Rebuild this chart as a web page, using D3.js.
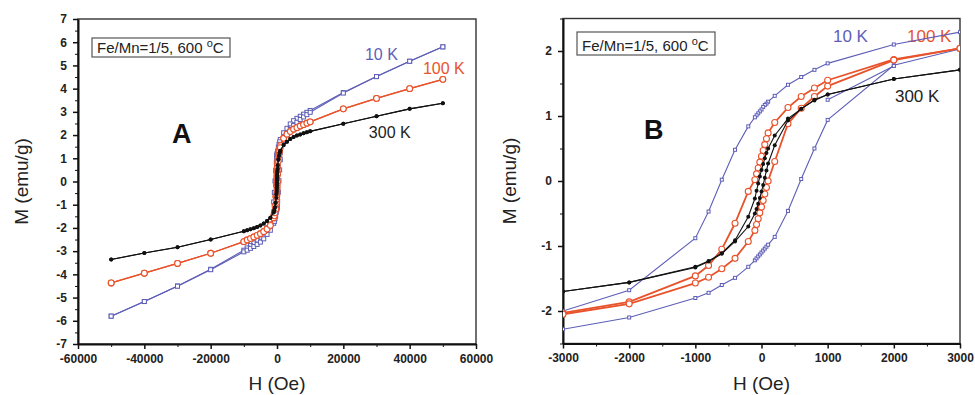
<!DOCTYPE html>
<html>
<head>
<meta charset="utf-8">
<script src="https://cdn.jsdelivr.net/npm/d3@7"></script>
<style>
  body { margin: 0; background: #fff; }
  svg text { font-family: "Liberation Sans", Arial, sans-serif; }
</style>
</head>
<body>
<div id="chart"></div>
<script>
// field sequence of the loop, descending branch then ascending branch (Oe)
const fieldDown = [50000, 40000, 30000, 20000, 10000, 9000, 8000, 7000, 6000, 5000, 4000, 3000, 2000, 1000,
  800, 600, 400, 200, 100, 75, 50, 25, 0, -25, -50, -75, -100, -200, -400, -600, -800, -1000, -2000, -3000,
  -4000, -5000, -6000, -7000, -8000, -9000, -10000, -20000, -30000, -40000, -50000];
const fieldUp = [-50000, -40000, -30000, -20000, -10000, -9000, -8000, -7000, -6000, -5000, -4000, -3000, -2000, -1000,
  -800, -600, -400, -200, -100, -75, -50, -25, 0, 25, 50, 75, 100, 200, 400, 600, 800, 1000, 2000, 3000,
  4000, 5000, 6000, 7000, 8000, 9000, 10000, 20000, 30000, 40000, 50000];

// M (emu/g) at 10 K
const m10Down = [5.80, 5.18, 4.52, 3.83, 3.06, 2.98, 2.90, 2.81, 2.72, 2.62, 2.48, 2.29, 2.10, 1.81,
  1.71, 1.60, 1.48, 1.31, 1.22, 1.19, 1.17, 1.14, 1.10, 1.07, 1.04, 1.01, 0.98, 0.84, 0.48, 0.02, -0.47, -0.88, -1.68, -2.00,
  -2.22, -2.40, -2.53, -2.65, -2.76, -2.86, -2.96, -3.78, -4.50, -5.17, -5.80];
const m10Up = [-5.80, -5.17, -4.51, -3.80, -3.03, -2.96, -2.88, -2.80, -2.71, -2.61, -2.47, -2.28, -2.10, -1.80,
  -1.72, -1.60, -1.49, -1.32, -1.22, -1.19, -1.16, -1.13, -1.10, -1.07, -1.04, -1.01, -0.98, -0.86, -0.46, 0.03, 0.50, 0.94, 1.78, 2.03,
  2.24, 2.41, 2.55, 2.67, 2.78, 2.88, 2.98, 3.81, 4.52, 5.18, 5.80];
const field10Extra = [1000, 2000];
const m10Extra = [1.25, 1.77];

// M (emu/g) at 100 K
const m100Down = [4.40, 4.00, 3.58, 3.13, 2.57, 2.51, 2.45, 2.39, 2.32, 2.25, 2.15, 2.04, 1.87, 1.55,
  1.43, 1.30, 1.13, 0.90, 0.74, 0.65, 0.56, 0.47, 0.38, 0.29, 0.20, 0.11, 0.02, -0.16, -0.65, -1.05, -1.30, -1.46, -1.86, -2.03,
  -2.15, -2.25, -2.32, -2.39, -2.46, -2.52, -2.59, -3.09, -3.53, -3.95, -4.37];
const m100Up = [-4.37, -3.95, -3.53, -3.09, -2.59, -2.52, -2.46, -2.39, -2.32, -2.25, -2.16, -2.05, -1.89, -1.57,
  -1.48, -1.35, -1.19, -0.93, -0.76, -0.67, -0.58, -0.49, -0.40, -0.30, -0.20, -0.10, 0.00, 0.30, 0.88, 1.12, 1.30, 1.46, 1.86, 2.04,
  2.15, 2.25, 2.32, 2.39, 2.45, 2.51, 2.57, 3.13, 3.58, 4.00, 4.40];

// M (emu/g) at 300 K
const m300Down = [3.37, 3.13, 2.81, 2.49, 2.16, 2.12, 2.08, 2.03, 1.98, 1.92, 1.83, 1.71, 1.57, 1.33,
  1.25, 1.11, 0.96, 0.70, 0.50, 0.43, 0.35, 0.26, 0.17, 0.07, -0.04, -0.15, -0.27, -0.55, -0.91, -1.11, -1.23, -1.32, -1.56, -1.70,
  -1.81, -1.90, -1.96, -2.01, -2.06, -2.10, -2.14, -2.50, -2.83, -3.08, -3.36];
const m300Up = [-3.36, -3.08, -2.83, -2.50, -2.14, -2.10, -2.06, -2.01, -1.96, -1.90, -1.81, -1.70, -1.56, -1.33,
  -1.24, -1.12, -0.93, -0.70, -0.50, -0.43, -0.35, -0.26, -0.16, -0.06, 0.05, 0.16, 0.27, 0.55, 0.93, 1.11, 1.24, 1.33, 1.57, 1.71,
  1.83, 1.92, 1.98, 2.03, 2.08, 2.12, 2.16, 2.49, 2.81, 3.13, 3.37];

const seriesNames = ["10 K", "100 K", "300 K"];
const sampleLabel = "Fe/Mn=1/5, 600 ";
const xTitle = "H (Oe)";
const yTitle = "M (emu/g)";

const ticksA_x = [-60000, -40000, -20000, 0, 20000, 40000, 60000];
const minorA_x = [-50000, -30000, -10000, 10000, 30000, 50000];
const ticksA_y = [-7, -6, -5, -4, -3, -2, -1, 0, 1, 2, 3, 4, 5, 6, 7];
const minorA_y = [-6.5, -5.5, -4.5, -3.5, -2.5, -1.5, -0.5, 0.5, 1.5, 2.5, 3.5, 4.5, 5.5, 6.5];
const ticksB_x = [-3000, -2000, -1000, 0, 1000, 2000, 3000];
const minorB_x = [-2500, -1500, -500, 500, 1500, 2500];
const ticksB_y = [-2, -1, 0, 1, 2];
const minorB_y = [-2.5, -1.5, -0.5, 0.5, 1.5, 2.5];

const blue = "#5e5eb8", red = "#e8532b", black = "#111";

const zip = (hs, ms) => hs.map((h, i) => ({ h: h, m: ms[i] }));
const series = [
  { name: seriesNames[0], color: blue, shape: "square", width: 1.1,
    paths: [zip(fieldDown, m10Down), zip(fieldUp, m10Up), zip(field10Extra, m10Extra)] },
  { name: seriesNames[1], color: red, shape: "circle", width: 1.3,
    paths: [zip(fieldDown, m100Down), zip(fieldUp, m100Up)] },
  { name: seriesNames[2], color: black, shape: "dot", width: 1.1,
    paths: [zip(fieldDown, m300Down), zip(fieldUp, m300Up)] }
];

const svg = d3.select("#chart").append("svg")
  .attr("width", 975)
  .attr("height", 395);

function drawPanel(p) {
  const x = d3.scaleLinear().domain(p.xDomain).range([p.left, p.right]);
  const y = d3.scaleLinear().domain(p.yDomain).range([p.bottom, p.top]);
  const g = svg.append("g");

  const clipId = "clip" + p.letter;
  g.append("clipPath").attr("id", clipId)
    .append("rect")
    .attr("x", p.left).attr("y", p.top)
    .attr("width", p.right - p.left).attr("height", p.bottom - p.top);

  // frame
  g.append("rect")
    .attr("x", p.left).attr("y", p.top)
    .attr("width", p.right - p.left).attr("height", p.bottom - p.top)
    .attr("fill", "none").attr("stroke", "#333").attr("stroke-width", 1.4);

  // minor ticks
  g.append("g").attr("transform", `translate(0,${p.bottom})`)
    .call(d3.axisBottom(x).tickValues(p.xMinor).tickSize(3).tickFormat(""))
    .call(s => s.select(".domain").remove());
  g.append("g").attr("transform", `translate(${p.left},0)`)
    .call(d3.axisLeft(y).tickValues(p.yMinor).tickSize(3).tickFormat(""))
    .call(s => s.select(".domain").remove());

  // major axes
  const xa = g.append("g").attr("transform", `translate(0,${p.bottom})`)
    .call(d3.axisBottom(x).tickValues(p.xTicks).tickSize(5).tickSizeOuter(0).tickPadding(5).tickFormat(d => String(d)));
  const ya = g.append("g").attr("transform", `translate(${p.left},0)`)
    .call(d3.axisLeft(y).tickValues(p.yTicks).tickSize(5).tickSizeOuter(0).tickPadding(6).tickFormat(d => String(d)));
  [xa, ya].forEach(a => {
    a.select(".domain").attr("stroke-width", 2).attr("stroke", "#111");
    a.selectAll(".tick line").attr("stroke-width", 1.5).attr("stroke", "#111");
    a.selectAll(".tick text").attr("font-size", 12).attr("font-weight", "bold").attr("fill", "#222")
      .style("font-family", "'Liberation Sans', Arial, sans-serif");
  });
  g.selectAll(".tick line").attr("stroke", "#111");

  // axis titles
  g.append("text")
    .attr("x", (p.left + p.right) / 2).attr("y", 390)
    .attr("text-anchor", "middle").attr("font-size", 19).attr("fill", "#222")
    .text(xTitle);
  g.append("text")
    .attr("transform", `translate(${p.yTitleX},${y(0)}) rotate(-90)`)
    .attr("text-anchor", "middle").attr("font-size", 19).attr("fill", "#222")
    .text(yTitle);

  // sample box
  g.append("rect")
    .attr("x", p.left + 14).attr("y", p.boxTop)
    .attr("width", 138).attr("height", p.boxH)
    .attr("fill", "#fff").attr("stroke", "#555").attr("stroke-width", 1.2);
  const bt = g.append("text")
    .attr("x", p.left + 19).attr("y", p.boxTop + p.boxH - 4)
    .attr("font-size", 15).attr("fill", "#222")
    .text(sampleLabel);
  bt.append("tspan").attr("font-size", 11).attr("dy", -6).text("o");
  bt.append("tspan").attr("dy", 6).text("C");

  // panel letter
  g.append("text")
    .attr("x", x(p.letterPos[0])).attr("y", y(p.letterPos[1]))
    .attr("font-size", 27).attr("font-weight", "bold").attr("fill", "#111")
    .text(p.letter);

  // series labels (drawn under the curves)
  series.forEach((s, i) => {
    g.append("text")
      .attr("x", x(p.labelPos[i][0])).attr("y", y(p.labelPos[i][1]))
      .attr("font-size", p.labelSize).attr("fill", s.color === black ? "#222" : s.color)
      .text(s.name);
  });

  const plot = g.append("g").attr("clip-path", `url(#${clipId})`);
  const line = d3.line().x(d => x(d.h)).y(d => y(d.m));
  const inside = d => d.h >= p.xDomain[0] && d.h <= p.xDomain[1];

  series.forEach(s => {
    s.paths.forEach(pts => {
      plot.append("path")
        .datum(pts)
        .attr("d", line)
        .attr("fill", "none")
        .attr("stroke", s.color)
        .attr("stroke-width", s === series[1] ? p.redWidth : s.width);
    });
    const all = s.paths.flat().filter(inside);
    if (s.shape === "square") {
      const sz = p.squareSize;
      plot.selectAll(null).data(all).enter().append("rect")
        .attr("x", d => x(d.h) - sz / 2).attr("y", d => y(d.m) - sz / 2)
        .attr("width", sz).attr("height", sz)
        .attr("fill", "#fff").attr("stroke", s.color).attr("stroke-width", 1);
    } else if (s.shape === "circle") {
      plot.selectAll(null).data(all).enter().append("circle")
        .attr("cx", d => x(d.h)).attr("cy", d => y(d.m)).attr("r", p.circleR)
        .attr("fill", "#fff").attr("stroke", s.color).attr("stroke-width", 1.1);
    } else {
      plot.selectAll(null).data(all).enter().append("circle")
        .attr("cx", d => x(d.h)).attr("cy", d => y(d.m)).attr("r", 2)
        .attr("fill", s.color);
    }
  });
}

drawPanel({
  letter: "A", left: 78, right: 476, top: 19, bottom: 344,
  xDomain: [-60000, 60000], yDomain: [-7, 7],
  xTicks: ticksA_x, xMinor: minorA_x, yTicks: ticksA_y, yMinor: minorA_y,
  yTitleX: 28, boxTop: 38, boxH: 19,
  letterPos: [-31650, 1.66],
  labelPos: [[26500, 5.23], [44000, 4.63], [27700, 1.87]], labelSize: 16,
  squareSize: 4, circleR: 2.9, redWidth: 1.2
});

drawPanel({
  letter: "B", left: 563, right: 960, top: 18.5, bottom: 343.5,
  xDomain: [-3000, 3000], yDomain: [-2.5, 2.5],
  xTicks: ticksB_x, xMinor: minorB_x, yTicks: ticksB_y, yMinor: minorB_y,
  yTitleX: 516, boxTop: 32, boxH: 23,
  letterPos: [-1776, 0.646],
  labelPos: [[1080, 2.14], [2199, 2.14], [2017, 1.215]], labelSize: 17,
  squareSize: 3, circleR: 3, redWidth: 1.8
});
</script>
</body>
</html>
